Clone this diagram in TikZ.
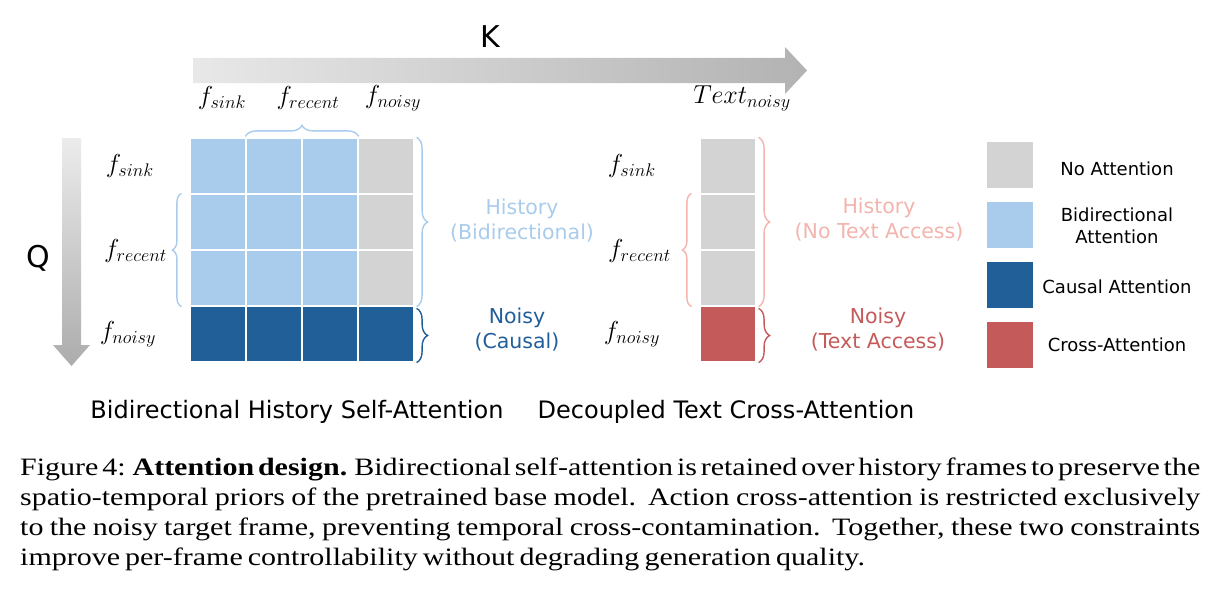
\documentclass[tikz,border=0pt]{standalone}
\usepackage{fix-cm}
\usepackage{fontspec}
\setmainfont{Liberation Serif}
\newfontfamily\comic{DejaVu Sans}
\newfontfamily\capfont[FakeStretch=1.2]{Liberation Serif}
\usetikzlibrary{positioning,decorations.pathreplacing}

\definecolor{lblue}{HTML}{A9CBEC}
\definecolor{dblue}{HTML}{215F99}
\definecolor{lgray}{HTML}{D3D3D3}
\definecolor{cred}{HTML}{C45A5A}
\definecolor{lpink}{HTML}{F2B4AC}

\begin{document}
\begin{tikzpicture}[x=1pt, y=-1pt,
    cell/.style={rectangle, draw=white, line width=1.2pt, minimum size=56pt, inner sep=0pt},
    leg/.style={rectangle, minimum size=46pt, inner sep=0pt},
    lab/.style={font=\comic\fontsize{20.5}{25}\selectfont, align=center},
    leglab/.style={font=\comic\fontsize{18}{22}\selectfont, align=center},
    mlab/.style={font=\fontsize{26}{28}\selectfont},
    brc/.style={decorate, decoration={brace, amplitude=11pt}, line width=1.4pt}]
    \useasboundingbox (0,0) rectangle (1220,602);

    % K and Q arrows
    \shade[left color=gray!18, right color=gray!60] (193,58) -- (785,58) -- (785,47) -- (807,70.5) -- (785,94) -- (785,83) -- (193,83) -- cycle;
    \shade[top color=gray!15, bottom color=gray!65] (62,138) -- (81,138) -- (81,345) -- (90,345) -- (71.5,366) -- (53,345) -- (62,345) -- cycle;
    \node[font=\comic\fontsize{30}{30}\selectfont] (K) at (490,37) {K};
    \node[font=\comic\fontsize{30}{30}\selectfont] (Q) at (38,258) {Q};

    % self-attention grid
    \foreach \r in {0,1,2}
        \foreach \c in {0,1,2}
            \node[cell, fill=lblue] (a-\r-\c) at ({218+56*\c},{166+56*\r}) {};
    \foreach \r in {0,1,2}
        \node[cell, fill=lgray] (a-\r-3) at (386,{166+56*\r}) {};
    \foreach \c in {0,1,2,3}
        \node[cell, fill=dblue] (a-3-\c) at ({218+56*\c},334) {};

    % cross-attention column
    \foreach \r in {0,1,2}
        \node[cell, fill=lgray] (b-\r) at (728,{166+56*\r}) {};
    \node[cell, fill=cred] (b-3) at (728,334) {};

    % frame labels
    \node[mlab] (ksink) at (222,98) {$f_{sink}$};
    \node[mlab] (krecent) at (308,98) {$f_{recent}$};
    \node[mlab] (knoisy) at (393,98) {$f_{noisy}$};
    \node[mlab] (ktext) at (742,98) {$Text_{noisy}$};
    \node[mlab, left=32pt of a-0-0] (qsink) {$f_{sink}$};
    \node[mlab, left=19pt of a-1-0.south west] (qrecent) {$f_{recent}$};
    \node[mlab, left=30pt of a-3-0] (qnoisy) {$f_{noisy}$};
    \node[mlab, left=40pt of b-0] (psink) {$f_{sink}$};
    \node[mlab, left=25pt of b-1.south west] (precent) {$f_{recent}$};
    \node[mlab, left=36pt of b-3] (pnoisy) {$f_{noisy}$};

    % braces
    \draw[brc, lblue] ([yshift=1pt]a-0-1.north west) -- ([yshift=1pt]a-0-2.north east);
    \draw[brc, lblue, decoration={amplitude=9pt}] ([xshift=-8pt]a-2-0.south west) -- ([xshift=-8pt]a-1-0.north west);
    \draw[brc, lblue] ([xshift=2pt]a-0-3.north east) -- ([xshift=2pt]a-2-3.south east);
    \draw[brc, dblue] ([xshift=2pt,yshift=-3pt]a-3-3.north east) -- ([xshift=2pt]a-3-3.south east);
    \draw[brc, lpink, decoration={amplitude=9pt}] ([xshift=-8pt]b-2.south west) -- ([xshift=-8pt]b-1.north west);
    \draw[brc, lpink] ([xshift=2pt]b-0.north east) -- ([xshift=2pt]b-2.south east);
    \draw[brc, cred] ([xshift=2pt,yshift=-3pt]b-3.north east) -- ([xshift=2pt]b-3.south east);

    % group labels
    \node[lab, text=lblue] (hist) at (522,221) {History\\(Bidirectional)};
    \node[lab, text=dblue] (noisy) at (517,330) {Noisy\\(Causal)};
    \node[lab, text=lpink] (histx) at (879,220) {History\\(No Text Access)};
    \node[lab, text=cred] (noisyx) at (878,330) {Noisy\\(Text Access)};

    % legend
    \node[leg, fill=lgray] (l1) at (1010,165) {};
    \node[leg, fill=lblue] (l2) at (1010,225) {};
    \node[leg, fill=dblue] (l3) at (1010,285) {};
    \node[leg, fill=cred] (l4) at (1010,345) {};
    \node[leglab] (t1) at (1117,169) {No Attention};
    \node[leglab] (t2) at (1117,226) {Bidirectional\\Attention};
    \node[leglab] (t3) at (1117,287) {Causal Attention};
    \node[leglab] (t4) at (1117,345) {Cross-Attention};

    % titles and caption
    \node[lab, font=\comic\fontsize{24}{28}\selectfont] (self) at (297,412) {Bidirectional History Self-Attention};
    \node[lab, font=\comic\fontsize{24}{28}\selectfont] (cross) at (726,412) {Decoupled Text Cross-Attention};
    \node[anchor=north west, inner sep=0pt, text width=1180pt, align=justify,
          font=\capfont\fontsize{25}{30}\selectfont] (cap) at (20,458)
        {\spaceskip=0.2em plus 0.4em minus 0.12em
         Figure 4: \textbf{Attention design.} Bidirectional self-attention is retained over history frames to preserve the\linebreak
         spatio-temporal priors of the pretrained base model. Action cross-attention is restricted exclusively\linebreak
         to the noisy target frame, preventing temporal cross-contamination. Together, these two constraints\linebreak
         improve per-frame controllability without degrading generation quality.};
\end{tikzpicture}
\end{document}
